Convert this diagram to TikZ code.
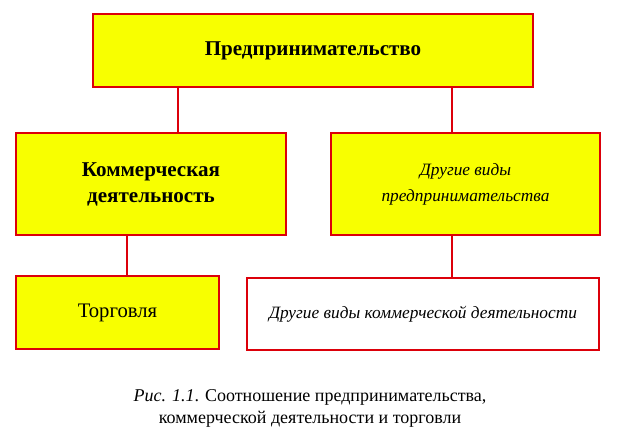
\documentclass[tikz,border=0pt]{standalone}
\usepackage{fontspec}
\setmainfont{Liberation Serif}
\definecolor{boxred}{RGB}{220,0,10}
\definecolor{boxyellow}{RGB}{248,255,0}

\begin{document}
\begin{tikzpicture}[x=0.75pt,y=-0.75pt,
    box/.style={draw=boxred, line width=1.6pt, fill=boxyellow, align=center,
                inner sep=0pt, font=\fontsize{15.8}{19.5}\selectfont},
    plainbox/.style={box, fill=white},
    italtext/.style={font=\fontsize{13}{19.5}\selectfont\itshape},
    link/.style={draw=boxred, line width=1.6pt}]

    % Fix the frame of the picture
    \useasboundingbox (0,0) rectangle (621,438);

    % Top level
    \node (pred) at (313,50.5) [box, minimum width=440*0.75pt, minimum height=73*0.75pt]
        {\bfseries Предпринимательство};

    % Second level
    \node (komm) at (151,184) [box, minimum width=270*0.75pt, minimum height=102*0.75pt]
        {\bfseries Коммерческая\\ \bfseries деятельность};
    \node (drpr) at (465.5,184) [box, italtext, minimum width=269*0.75pt, minimum height=102*0.75pt]
        {Другие виды\\ предпринимательства};

    % Third level
    \node (torg) at (117.5,312.5) [box, font=\fontsize{15.5}{19.5}\selectfont,
        minimum width=203*0.75pt, minimum height=73*0.75pt]
        {Торговля};
    \node (drkd) at (423,314) [plainbox, italtext, minimum width=352*0.75pt, minimum height=72*0.75pt]
        {Другие виды коммерческой деятельности};

    % Where the links leave the boxes
    \coordinate (L1) at (178,0);
    \coordinate (L2) at (452,0);
    \coordinate (L3) at (127,0);

    % Links
    \draw [link] (pred.south -| L1) -- (komm.north -| L1);
    \draw [link] (pred.south -| L2) -- (drpr.north -| L2);
    \draw [link] (komm.south -| L3) -- (torg.north -| L3);
    \draw [link] (drpr.south -| L2) -- (drkd.north -| L2);

    % Caption
    \node (capt) at (310,408) [align=center, font=\fontsize{13.5}{16.5}\selectfont]
        {\textit{Рис. 1.1}. Соотношение предпринимательства,\\ коммерческой деятельности и торговли};

\end{tikzpicture}
\end{document}
